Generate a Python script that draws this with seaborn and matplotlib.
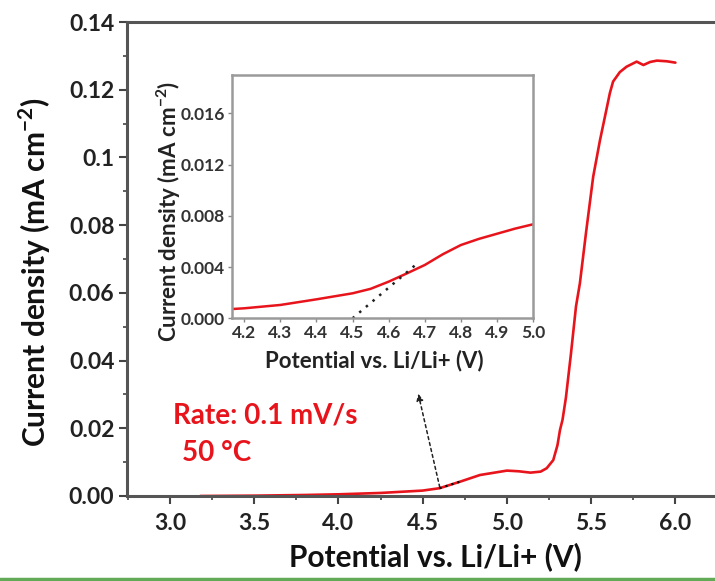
import numpy as np
import seaborn as sns
import matplotlib.pyplot as plt
from matplotlib.lines import Line2D
from matplotlib.ticker import MultipleLocator

# main LSV curve (potential in V, current density in mA cm-2)
potential = [3.18, 3.5, 3.8, 4.0, 4.25, 4.5, 4.6, 4.72, 4.84, 5.0, 5.07, 5.14,
             5.2, 5.236, 5.275, 5.3, 5.315, 5.33, 5.35, 5.38, 5.41, 5.433,
             5.47, 5.512, 5.552, 5.59, 5.611, 5.63, 5.67, 5.71, 5.77, 5.81,
             5.85, 5.89, 5.95, 6.0]
current = [0.0, 0.0001, 0.0003, 0.0005, 0.0009, 0.0016, 0.0023, 0.0042, 0.0062,
           0.0075, 0.0073, 0.0069, 0.0072, 0.0082, 0.0106, 0.0150, 0.0195,
           0.0225, 0.029, 0.042, 0.056, 0.0628, 0.078, 0.0943, 0.105, 0.114,
           0.119, 0.1224, 0.1252, 0.1268, 0.1283, 0.1273, 0.1282, 0.1286,
           0.1284, 0.128]

# inset zoom of the onset region
inset_potential = [4.165, 4.2, 4.3, 4.4, 4.5, 4.55, 4.6, 4.65, 4.7, 4.75, 4.8,
                   4.85, 4.9, 4.95, 5.0]
inset_current = [0.00072, 0.00078, 0.00104, 0.00148, 0.00195, 0.0023, 0.00286,
                 0.0035, 0.00416, 0.0050, 0.00572, 0.0062, 0.0066, 0.0070,
                 0.00734]

# tangent used for the onset potential
tangent_x = [4.5, 4.68]
tangent_y = [0.0, 0.0043]

red = '#e8141c'
sns.set_style('ticks')
plt.rcParams['font.family'] = ['Lato', 'DejaVu Sans']
plt.rcParams['font.weight'] = 'bold'
plt.rcParams['mathtext.fontset'] = 'custom'
plt.rcParams['mathtext.rm'] = 'Lato'
plt.rcParams['mathtext.bf'] = 'Lato:bold'

fig = plt.figure(figsize=(7.15, 5.81), dpi=100)
ax = fig.add_axes([0.1776, 0.1463, 0.8224, 0.8158])
sns.lineplot(x=potential, y=current, ax=ax, color=red, lw=1.9, sort=False)
ax.plot([4.6, 4.72], [0.0023, 0.0042], ls=(0, (1, 2)), color='k', lw=1.5)
ax.set_xlim(2.745, 6.235)
ax.set_ylim(0, 0.14)
ax.set_xticks([3.0, 3.5, 4.0, 4.5, 5.0, 5.5, 6.0])
ax.set_xticklabels(['3.0', '3.5', '4.0', '4.5', '5.0', '5.5', '6.0'])
ax.set_yticks([0, 0.02, 0.04, 0.06, 0.08, 0.1, 0.12, 0.14])
ax.set_yticklabels(['0.00', '0.02', '0.04', '0.06', '0.08', '0.1', '0.12', '0.14'])
ax.xaxis.set_minor_locator(MultipleLocator(0.25))
ax.yaxis.set_minor_locator(MultipleLocator(0.01))
ax.tick_params(which='major', length=6, width=1.5, color='#444444',
               labelsize=16.5, pad=3, labelcolor='#222222')
ax.tick_params(which='major', axis='x', pad=6)
ax.tick_params(which='minor', length=3, width=1.2, color='#444444')
for s in ['left', 'bottom', 'top']:
    ax.spines[s].set_linewidth(2.2)
    ax.spines[s].set_color('#555555')
ax.spines['right'].set_visible(False)
ax.set_xlabel('Potential vs. Li/Li+ (V)', fontsize=21.5, fontweight='bold',
              color='#111111')
ax.xaxis.set_label_coords(0.525, -0.097)
ax.set_ylabel('Current density (mA cm$^{\\mathbf{-2}}$)', fontsize=21.5,
              fontweight='bold', color='#111111')
ax.yaxis.set_label_coords(-0.126, 0.473)

ax.text(3.02, 0.0239, 'Rate: 0.1 mV/s', color=red, fontsize=20,
        fontweight='bold', va='center')
ax.text(3.07, 0.0127, '50 \u00b0C', color=red, fontsize=20,
        fontweight='bold', va='center')
ax.annotate('', xy=(4.47, 0.031), xytext=(4.605, 0.0018),
            arrowprops=dict(arrowstyle='-|>', ls=(0, (2, 2)), color='#222222',
                            lw=1.1, mutation_scale=10))

# inset
ins = fig.add_axes([0.324, 0.4522, 0.4215, 0.4187])
sns.lineplot(x=inset_potential, y=inset_current, ax=ins, color=red, lw=1.8,
             sort=False)
ins.plot(tangent_x, tangent_y, ls=(0, (1, 2.5)), color='#222222', lw=1.8)
ins.set_xlim(4.165, 5.0)
ins.set_ylim(0, 0.019)
ins.set_xticks([4.2, 4.3, 4.4, 4.5, 4.6, 4.7, 4.8, 4.9, 5.0])
ins.set_xticklabels(['4.2', '4.3', '4.4', '4.5', '4.6', '4.7', '4.8', '4.9', '5.0'])
ins.set_yticks([0, 0.004, 0.008, 0.012, 0.016])
ins.set_yticklabels(['0.000', '0.004', '0.008', '0.012', '0.016'])
ins.tick_params(length=3, width=1, color='#888888', labelsize=12.5,
                labelcolor='#333333', pad=2)
for s in ins.spines.values():
    s.set_linewidth(1.8)
    s.set_color('#9a9a9a')
ins.set_xlabel('Potential vs. Li/Li+ (V)', fontsize=16, fontweight='bold',
               color='#222222')
ins.xaxis.set_label_coords(0.472, -0.13)
ins.set_ylabel('Current density (mA cm$^{\\mathbf{-2}}$)', fontsize=16,
               fontweight='bold', color='#222222')
ins.yaxis.set_label_coords(-0.162, 0.437)

fig.add_artist(Line2D([0, 1], [0.0043, 0.0043], transform=fig.transFigure,
                      color='#62aa55', lw=2.5))

fig.savefig('out.png', dpi=100)
